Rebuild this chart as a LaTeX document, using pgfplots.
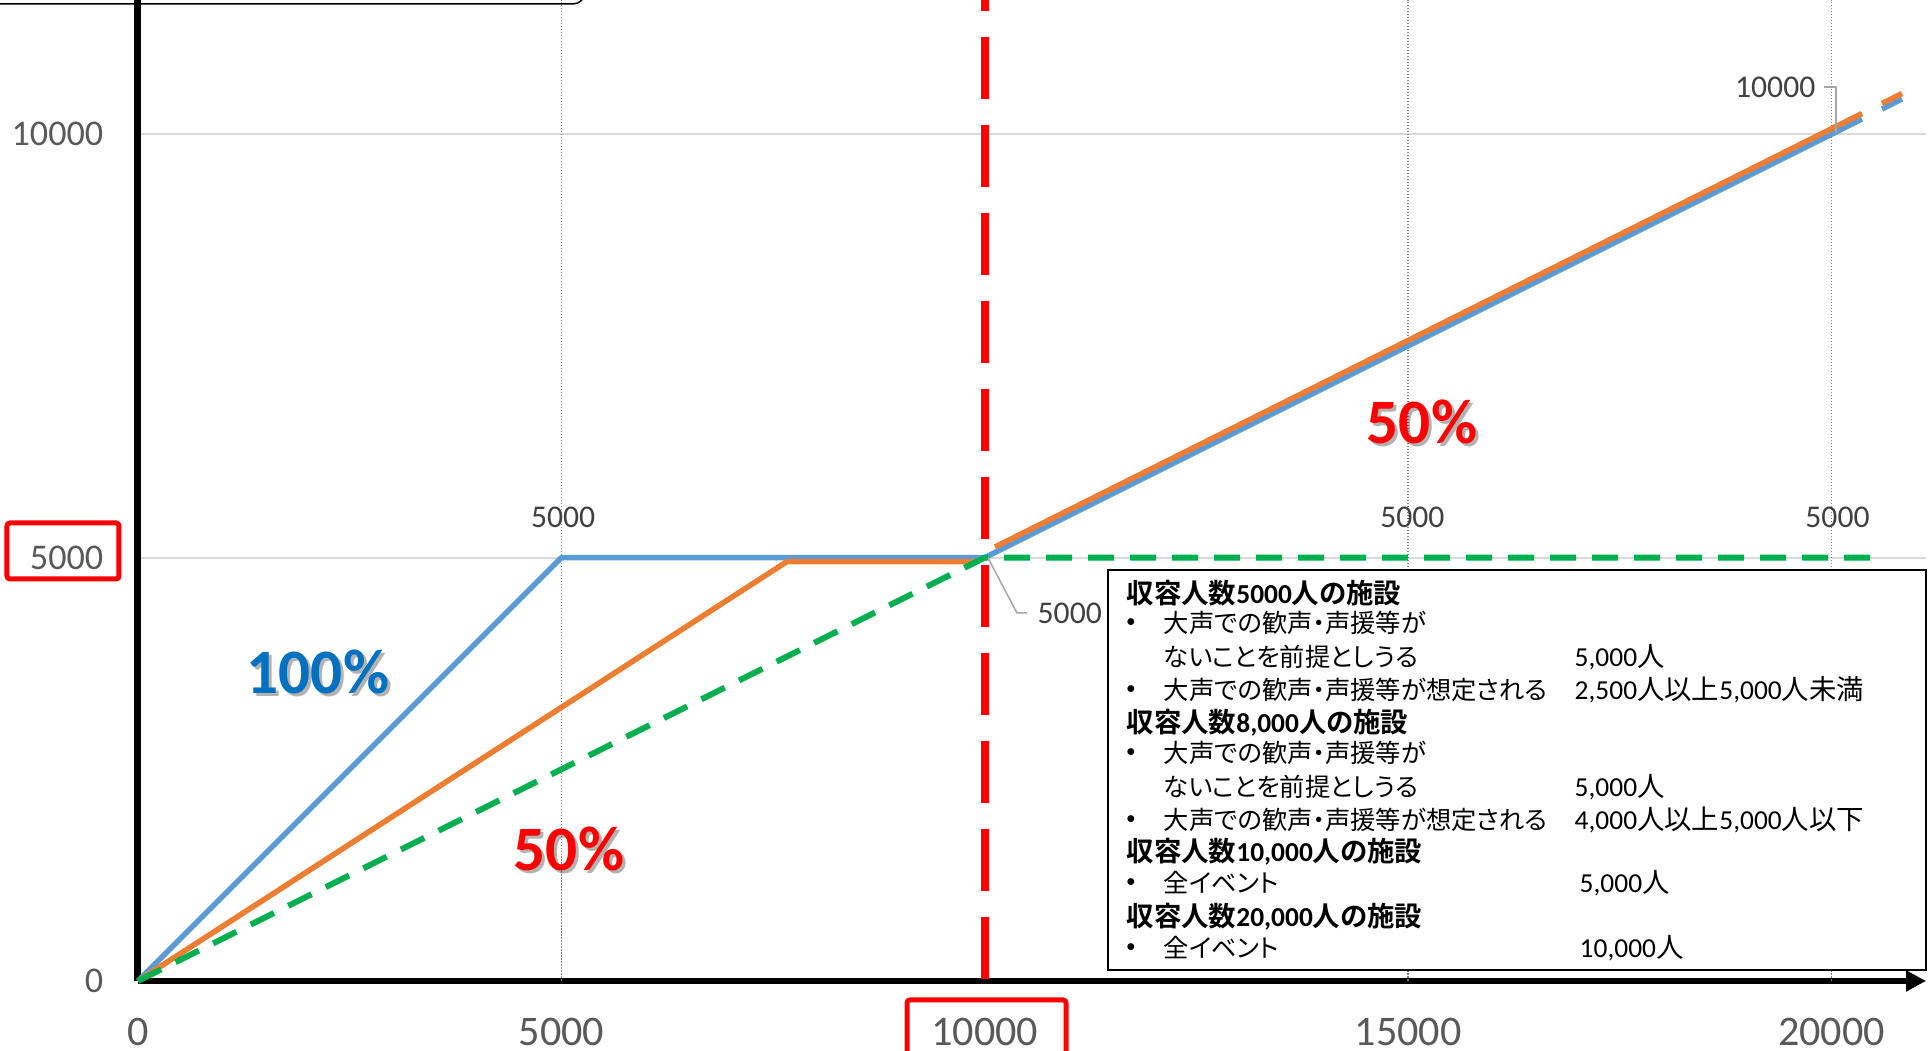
\documentclass[border=0pt]{standalone}
\usepackage{fontspec}
\setmainfont{Carlito}
\newfontfamily\cjk{Noto Sans CJK JP}[RawFeature=+palt, BoldFont={Noto Sans CJK JP Bold}]
\usepackage{pgfplots}
\pgfplotsset{compat=1.18}
\usetikzlibrary{arrows.meta}

\definecolor{blueL}{HTML}{5B9BD5}
\definecolor{orangeL}{HTML}{ED7D31}
\definecolor{greenL}{HTML}{00B050}
\definecolor{redL}{HTML}{FF0000}
\definecolor{pctblue}{HTML}{0070C0}
\definecolor{tickgray}{HTML}{595959}
\definecolor{labgray}{HTML}{404040}
\definecolor{gridgray}{HTML}{D9D9D9}
\definecolor{dotgray}{HTML}{808080}
\definecolor{leadgray}{HTML}{A6A6A6}

\newcommand{\J}[1]{{\cjk #1}}

\begin{document}
\begin{tikzpicture}
\begin{axis}[
  scale only axis, width=17.88cm, height=9.81cm,
  xmin=0, xmax=21115, ymin=0, ymax=11585,
  axis x line=bottom, axis y line=left,
  x axis line style={line width=0.055cm, -{Triangle[length=0.2cm,width=0.2cm]}},
  y axis line style={line width=0.07cm, -},
  xtick={0,5000,10000,15000,20000}, xticklabels={0,5000,10000,15000,20000},
  ytick={0,5000,10000}, yticklabels={0,5000,10000},
  major tick length=0pt,
  xticklabel style={font=\fontsize{12}{14}\selectfont, text=tickgray, anchor=center, yshift=-0.51cm},
  yticklabel style={font=\fontsize{10.3}{12}\selectfont, text=tickgray, anchor=east, inner sep=0pt, xshift=-0.34cm},
  xmajorgrids=false, ymajorgrids,
  extra x ticks={5000,15000,20000}, extra x tick labels={},
  extra x tick style={xmajorgrids=true, major tick length=0pt},
  x grid style={dotgray, line width=0.015cm, dash pattern=on 0.015cm off 0.015cm},
  y grid style={gridgray, line width=0.02cm},
  clip=false,
]
% red limit line
\addplot[redL, line width=0.08cm, dash pattern=on 0.62cm off 0.26cm, dash phase=0.86cm]
  coordinates {(10000,0) (10000,11585)};
% 100% series
\addplot[blueL, line width=0.055cm, line join=round] coordinates {(0,0) (5000,5000) (10000,5000) (20359,10180)};
\addplot[blueL, line width=0.055cm] coordinates {(20596,10298) (20832,10416)};
% 8000 facility
\addplot[orangeL, line width=0.055cm, line join=round] coordinates {(0,0) (7664,4953) (9920,4953)};
\addplot[orangeL, line width=0.055cm] coordinates {(10121,5125) (20359,10245)};
\addplot[orangeL, line width=0.055cm] coordinates {(20596,10363) (20832,10481)};
% 50% series
\addplot[greenL, line width=0.06cm, dash pattern=on 0.26cm off 0.16cm] coordinates {(0,0) (10000,5000) (20640,5000)};

% data labels
\node[text=labgray, font=\fontsize{9}{10}\selectfont] at (axis cs:5020,5472) {5000};
\node[text=labgray, font=\fontsize{9}{10}\selectfont] at (axis cs:15050,5472) {5000};
\node[text=labgray, font=\fontsize{9}{10}\selectfont] at (axis cs:20070,5472) {5000};
\end{axis}

% leader labels
\draw[leadgray, line width=0.015cm] (8.50,4.23) -- (8.79,3.68) -- (8.89,3.68);
\node[anchor=west, inner sep=0pt, text=labgray, font=\fontsize{9}{10}\selectfont] at (8.99,3.68) {5000};
\draw[leadgray, line width=0.015cm] (16.86,8.94) -- (16.98,8.94) -- (16.98,8.48);
\node[anchor=east, inner sep=0pt, text=labgray, font=\fontsize{9}{10}\selectfont] at (16.78,8.94) {10000};

% percentage labels with shadow
\node[text=black, opacity=0.3, font=\fontsize{18}{20}\selectfont\bfseries] at (1.83,3.06) {100\%};
\node[text=pctblue, font=\fontsize{18}{20}\selectfont\bfseries] at (1.80,3.09) {100\%};
\node[text=black, opacity=0.3, font=\fontsize{18}{20}\selectfont\bfseries] at (4.34,1.29) {50\%};
\node[text=redL, font=\fontsize{18}{20}\selectfont\bfseries] at (4.31,1.32) {50\%};
\node[text=black, opacity=0.3, font=\fontsize{18}{20}\selectfont\bfseries] at (12.87,5.56) {50\%};
\node[text=redL, font=\fontsize{18}{20}\selectfont\bfseries] at (12.84,5.59) {50\%};

% red highlight boxes
\draw[redL, line width=0.05cm, rounded corners=0.03cm] (-1.31,4.02) rectangle (-0.19,4.58);
\draw[redL, line width=0.05cm, rounded corners=0.03cm] (7.69,-0.19) rectangle (9.28,-1.00);

% top box (cropped)
\draw[black, line width=0.015cm, rounded corners=0.12cm] (-1.60,10.60) -- (-1.60,9.77) -- (4.47,9.77) -- (4.47,10.60);

% explanation box
\draw[black, line width=0.8pt, fill=white] (9.70,0.11) rectangle (17.88,4.11);
\begin{scope}[every node/.style={anchor=west, inner sep=0pt, font=\fontsize{7.8}{9}\selectfont}]
\tikzset{txt/.style={font=\fontsize{7.2}{9}\selectfont}, bul/.style={anchor=center, font=\fontsize{5.5}{6}\selectfont}}
\node at (9.88,3.88) {\bfseries\J{収容人数}5000\J{人の施設}};
\node[bul] at (9.93,3.58) {•};
\node[txt] at (10.25,3.58) {\J{大声での歓声・声援等が}};
\node[txt] at (10.25,3.24) {\J{ないことを前提としうる}};
\node at (14.36,3.24) {5,000\J{人}};
\node[bul] at (9.93,2.91) {•};
\node[txt] at (10.25,2.91) {\J{大声での歓声・声援等が想定される}};
\node at (14.36,2.91) {2,500\J{人以上}5,000\J{人未満}};
\node at (9.88,2.58) {\bfseries\J{収容人数}8,000\J{人の施設}};
\node[bul] at (9.93,2.28) {•};
\node[txt] at (10.25,2.28) {\J{大声での歓声・声援等が}};
\node[txt] at (10.25,1.94) {\J{ないことを前提としうる}};
\node at (14.36,1.94) {5,000\J{人}};
\node[bul] at (9.93,1.61) {•};
\node[txt] at (10.25,1.61) {\J{大声での歓声・声援等が想定される}};
\node at (14.36,1.61) {4,000\J{人以上}5,000\J{人以下}};
\node at (9.88,1.29) {\bfseries\J{収容人数}10,000\J{人の施設}};
\node[bul] at (9.93,0.98) {•};
\node[txt] at (10.25,0.98) {\J{全イベント}};
\node at (14.41,0.98) {5,000\J{人}};
\node at (9.88,0.64) {\bfseries\J{収容人数}20,000\J{人の施設}};
\node[bul] at (9.93,0.33) {•};
\node[txt] at (10.25,0.33) {\J{全イベント}};
\node at (14.41,0.33) {10,000\J{人}};
\end{scope}

\pgfresetboundingbox
\useasboundingbox (-1.38,-0.70) rectangle (17.92,9.81);
\end{tikzpicture}
\end{document}
